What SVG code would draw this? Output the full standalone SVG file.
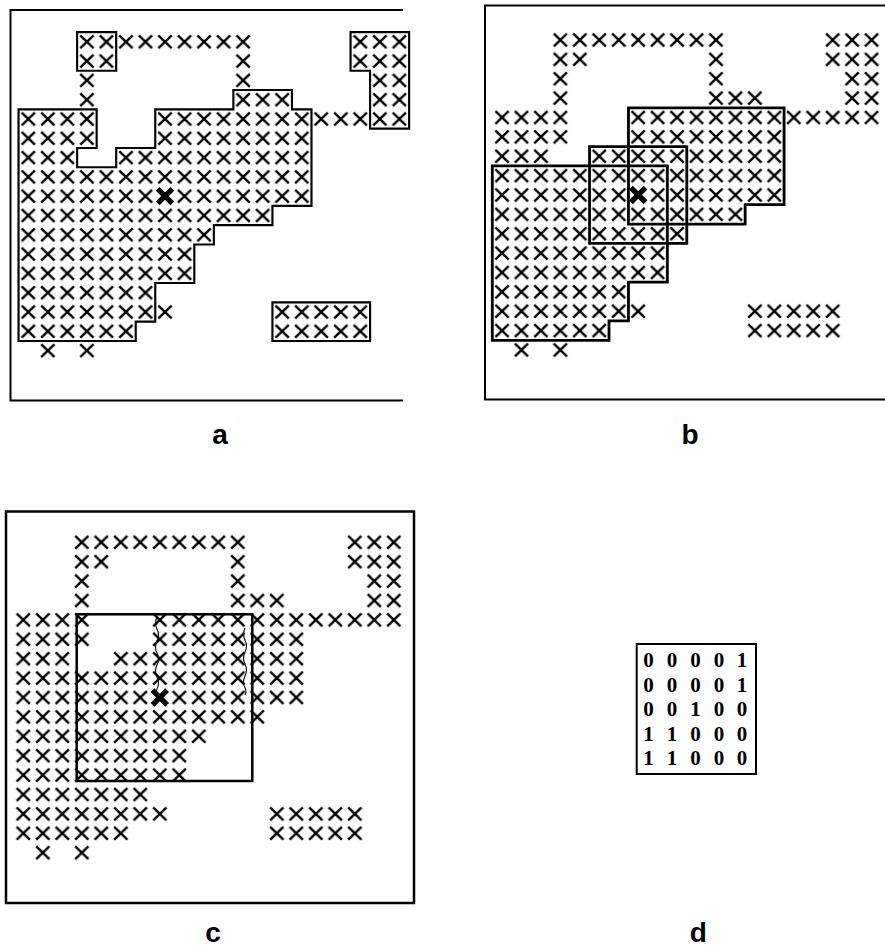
<svg xmlns="http://www.w3.org/2000/svg" width="885" height="948" viewBox="0 0 885 948">
<style>
.fr{fill:none;stroke:#000;stroke-width:2}
.ol{fill:none;stroke:#000;stroke-linejoin:miter}
.lbl{font-family:"Liberation Sans",Arial,sans-serif;font-weight:bold;font-size:28px;text-anchor:middle}
.mx{font-family:"Liberation Serif","Times New Roman",serif;font-weight:bold;font-size:21px}
</style>
<defs>
<pattern id="xp" width="20" height="20" patternUnits="userSpaceOnUse">
<path d="M3.2,3.3L16.8,16.7M16.8,3.3L3.2,16.7" stroke="#000" stroke-width="2.5" fill="none"/>
</pattern>
<g id="pts">
<path fill="url(#xp)" d="M60,0h180v20h-180z M340,0h60v20h-60z
M60,20h40v20h-40z M220,20h20v20h-20z M340,20h60v20h-60z
M60,40h20v20h-20z M220,40h20v20h-20z M360,40h40v20h-40z
M60,60h20v20h-20z M220,60h60v20h-60z M360,60h40v20h-40z
M0,80h80v20h-80z M140,80h260v20h-260z
M0,100h80v20h-80z M140,100h160v20h-160z
M0,120h60v20h-60z M100,120h200v20h-200z
M0,140h300v20h-300z
M0,160h300v20h-300z
M0,180h260v20h-260z
M0,200h200v20h-200z
M0,220h180v20h-180z
M0,240h180v20h-180z
M0,260h140v20h-140z
M0,280h160v20h-160z M260,280h100v20h-100z
M0,300h120v20h-120z M260,300h100v20h-100z
M20,320h20v20h-20z M60,320h20v20h-20z"/>
<path d="M142.5,162.5L157.5,177.5M157.5,162.5L142.5,177.5" stroke="#000" stroke-width="5.5" fill="none"/>
</g>
</defs>

<g id="panel-a">
<path class="fr" d="M403,10H10.5V400.5H403"/>
<g transform="translate(18.54,32.15) scale(0.9765,0.965)">
<use href="#pts"/>
<g class="ol" stroke-width="2.2">
<path d="M0,80H80V120H60V140H100V120H140V80H220V60H280V80H300V180H260V200H200V220H180V260H140V300H120V320H0Z"/>
<path d="M60,0H100V40H60Z"/>
<path d="M340,0H400V100H360V40H340Z"/>
<path d="M260,280H360V320H260Z"/>
</g>
</g>
<text class="lbl" x="220" y="444">a</text>
</g>

<g id="panel-b">
<path class="fr" d="M886,5.5H485V399.5H886"/>
<g transform="translate(492.3,30.3) scale(0.9725,0.96875)">
<use href="#pts"/>
<g class="ol" stroke-width="2.9">
<path d="M140,80H300V180H260V200H140Z"/>
<path d="M100,120H200V220H100Z"/>
<path d="M0,140H180V260H140V300H120V320H0Z"/>
</g>
</g>
<text class="lbl" x="690" y="444">b</text>
</g>

<g id="panel-c">
<rect class="fr" x="6" y="511.5" width="408" height="391.5" style="stroke-width:2.5"/>
<g transform="translate(13.55,532.6) scale(0.975,0.97)"><use href="#pts"/></g>
<rect x="76.7" y="614.3" width="175.6" height="166.7" fill="none" stroke="#000" stroke-width="2.5"/>
<path d="M157,617q-3,6 0,12q3,6 0,12q-3,6 0,12q3,6 0,12q-3,6 0,12q3,6 0,12q-2,5 0,8" fill="none" stroke="#000" stroke-width="1.1"/>
<path d="M245,628q-3,6 0,12q3,6 0,12q-3,6 0,12q3,6 0,12q-3,6 0,12q2,4 0,7" fill="none" stroke="#000" stroke-width="1.1"/>
<text class="lbl" x="213" y="941.5">c</text>
</g>

<g id="panel-d">
<rect x="636.7" y="644" width="119.3" height="130" fill="none" stroke="#000" stroke-width="2"/>
<text class="mx" x="643.2 653.4 666.7 676.9 690.2 700.4 713.7 723.9 736.7" y="667">0 0 0 0 1</text>
<text class="mx" x="643.2 653.4 666.7 676.9 690.2 700.4 713.7 723.9 736.7" y="691.5">0 0 0 0 1</text>
<text class="mx" x="643.2 653.4 666.7 676.9 690.2 700.4 713.7 723.9 736.7" y="716">0 0 1 0 0</text>
<text class="mx" x="643.2 653.4 666.7 676.9 690.2 700.4 713.7 723.9 736.7" y="740.5">1 1 0 0 0</text>
<text class="mx" x="643.2 653.4 666.7 676.9 690.2 700.4 713.7 723.9 736.7" y="765">1 1 0 0 0</text>
<text class="lbl" x="698.3" y="941.5">d</text>
</g>
</svg>
